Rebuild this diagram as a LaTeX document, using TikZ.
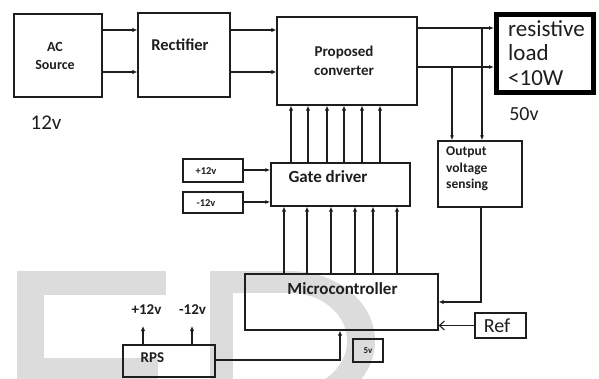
\documentclass[tikz,border=0pt]{standalone}
\usepackage{fontspec}
\setmainfont{Carlito}
\usetikzlibrary{arrows.meta}
\definecolor{wm}{HTML}{DCDCDC}
\definecolor{ink}{HTML}{1E1E1E}
\tikzset{
  box/.style={draw=ink, line width=1.3pt, inner sep=0pt},
  lbl/.style={text=ink, inner sep=0pt, font=\bfseries},
  arr/.style={draw=ink, line width=1.6pt, -{Latex[length=5pt,width=4.5pt]}},
  thinarr/.style={draw=ink, line width=1.1pt, -{Latex[length=5pt,width=4pt]}},
  openarr/.style={draw=ink, line width=1.1pt, -{Straight Barb[length=5pt,width=9pt]}},
}
\begin{document}
\begin{tikzpicture}[x=1pt,y=-1pt]
\useasboundingbox (0,0) rectangle (599,379);
% watermark
\begin{scope}
\clip (0,0) rectangle (599,379);
\fill[wm] (17,271) rectangle (166,358);
\fill[wm] (17,358) rectangle (158,385);
\fill[white] (44,295) rectangle (166,358);
\fill[wm] (210,390) -- (210,271) -- (290,271) arc[start angle=-90,end angle=90,x radius=85,y radius=70] -- cycle;
\fill[white] (233,395) -- (233,293) -- (290,293) arc[start angle=-90,end angle=90,x radius=57,y radius=48] -- cycle;
\end{scope}
% boxes
\node[box, minimum width=88pt, minimum height=83pt] (ac) at (58,55.5) {};
\node[box, minimum width=92pt, minimum height=84pt] (rect) at (184,55) {};
\node[box, minimum width=140pt, minimum height=88pt] (conv) at (347,61) {};
\node[draw=black, line width=5pt, minimum width=97pt, minimum height=78.5pt, inner sep=0pt] (load) at (545,53.75) {};
\node[box, minimum width=84pt, minimum height=66pt] (sense) at (480,174) {};
\node[box, minimum width=139pt, minimum height=43pt] (gate) at (340.5,184.5) {};
\node[box, minimum width=60pt, minimum height=23pt] (p12) at (213,170.5) {};
\node[box, minimum width=60pt, minimum height=21pt] (m12) at (213,202.5) {};
\node[box, minimum width=193pt, minimum height=56pt] (mc) at (341.5,302) {};
\node[box, line width=1.1pt, minimum width=51pt, minimum height=25pt] (ref) at (500.5,325.5) {};
\node[box, minimum width=92pt, minimum height=32pt] (rps) at (169,361) {};
\node[box, minimum width=30pt, minimum height=23pt] (fv) at (368,350.5) {};
% labels
\node[lbl, font=\fontsize{14}{18}\selectfont\bfseries, align=center] (tac) at (55,56) {AC\\Source};
\node[lbl, font=\fontsize{16.5}{18}\selectfont\bfseries] (trect) at (180,45) {Rectifier};
\node[lbl, font=\fontsize{15}{19.5}\selectfont\bfseries, align=center] (tconv) at (344,61) {Proposed\\converter};
\node[lbl, font=\fontsize{23}{24.5}\selectfont, align=left, anchor=west] (tload) at (508,53) {resistive\\load\\<10W};
\node[lbl, font=\fontsize{13.5}{16.5}\selectfont\bfseries, align=left, anchor=west] (tsense) at (446,169) {Output\\voltage\\sensing};
\node[lbl, font=\fontsize{17}{19}\selectfont\bfseries] (tgate) at (328,177) {Gate driver};
\node[lbl, font=\fontsize{17}{19}\selectfont\bfseries] (tmc) at (342.5,289) {Microcontroller};
\node[lbl, font=\fontsize{20}{22}\selectfont] (tref) at (497,326) {Ref};
\node[lbl, font=\fontsize{15}{17}\selectfont\bfseries] (trps) at (152.5,358) {RPS};
\node[lbl, font=\fontsize{10.5}{12}\selectfont\bfseries] (tp12) at (206,171) {+12v};
\node[lbl, font=\fontsize{10.5}{12}\selectfont\bfseries] (tm12) at (206,203) {-12v};
\node[lbl, font=\fontsize{9}{10}\selectfont\bfseries] (tfv) at (368,351) {5v};
\node[lbl, font=\fontsize{15}{17}\selectfont\bfseries] (trp) at (146.5,310) {+12v};
\node[lbl, font=\fontsize{15}{17}\selectfont\bfseries] (trm) at (192.5,310) {-12v};
\node[lbl, font=\fontsize{21}{23}\selectfont] (t12) at (46,123) {12v};
\node[lbl, font=\fontsize{20}{22}\selectfont] (t50) at (524,114) {50v};
% connectors
\draw[arr] (ac.east |- 0,30) -- (rect.west |- 0,30);
\draw[arr] (ac.east |- 0,72) -- (rect.west |- 0,72);
\draw[arr] (rect.east |- 0,30) -- (conv.west |- 0,30);
\draw[arr] (rect.east |- 0,72) -- (conv.west |- 0,72);
\draw[thinarr] (conv.east |- 0,28) -- (load.west |- 0,28);
\draw[thinarr] (conv.east |- 0,67) -- (load.west |- 0,67);
\draw[thinarr] (482,28) -- (sense.north -| 482,0);
\draw[thinarr] (452,67) -- (sense.north -| 452,0);
\foreach \x in {291,308,327,344,362,380} {
  \draw[arr] (gate.north -| \x,0) -- (conv.south -| \x,0);
}
\foreach \x in {284,307,331,355,373,397} {
  \draw[arr] (mc.north -| \x,0) -- (gate.south -| \x,0);
}
\draw[thinarr] (p12.east |- 0,170) -- (gate.west |- 0,170);
\draw[thinarr] (m12.east |- 0,202) -- (gate.west |- 0,202);
\draw[arr, line width=1.3pt] (sense.south -| 481,0) |- (mc.east |- 0,302);
\draw[openarr] (ref.west) -- (mc.east |- ref.west);
\coordinate (rpa) at (143,326);
\coordinate (rpb) at (192,326);
\draw[arr] (rps.north -| rpa) -- (rpa);
\draw[arr] (rps.north -| rpb) -- (rpb);
\draw[arr, line width=1.3pt] (rps.east |- 0,360) -| (mc.south -| 340,0);
\end{tikzpicture}
\end{document}
